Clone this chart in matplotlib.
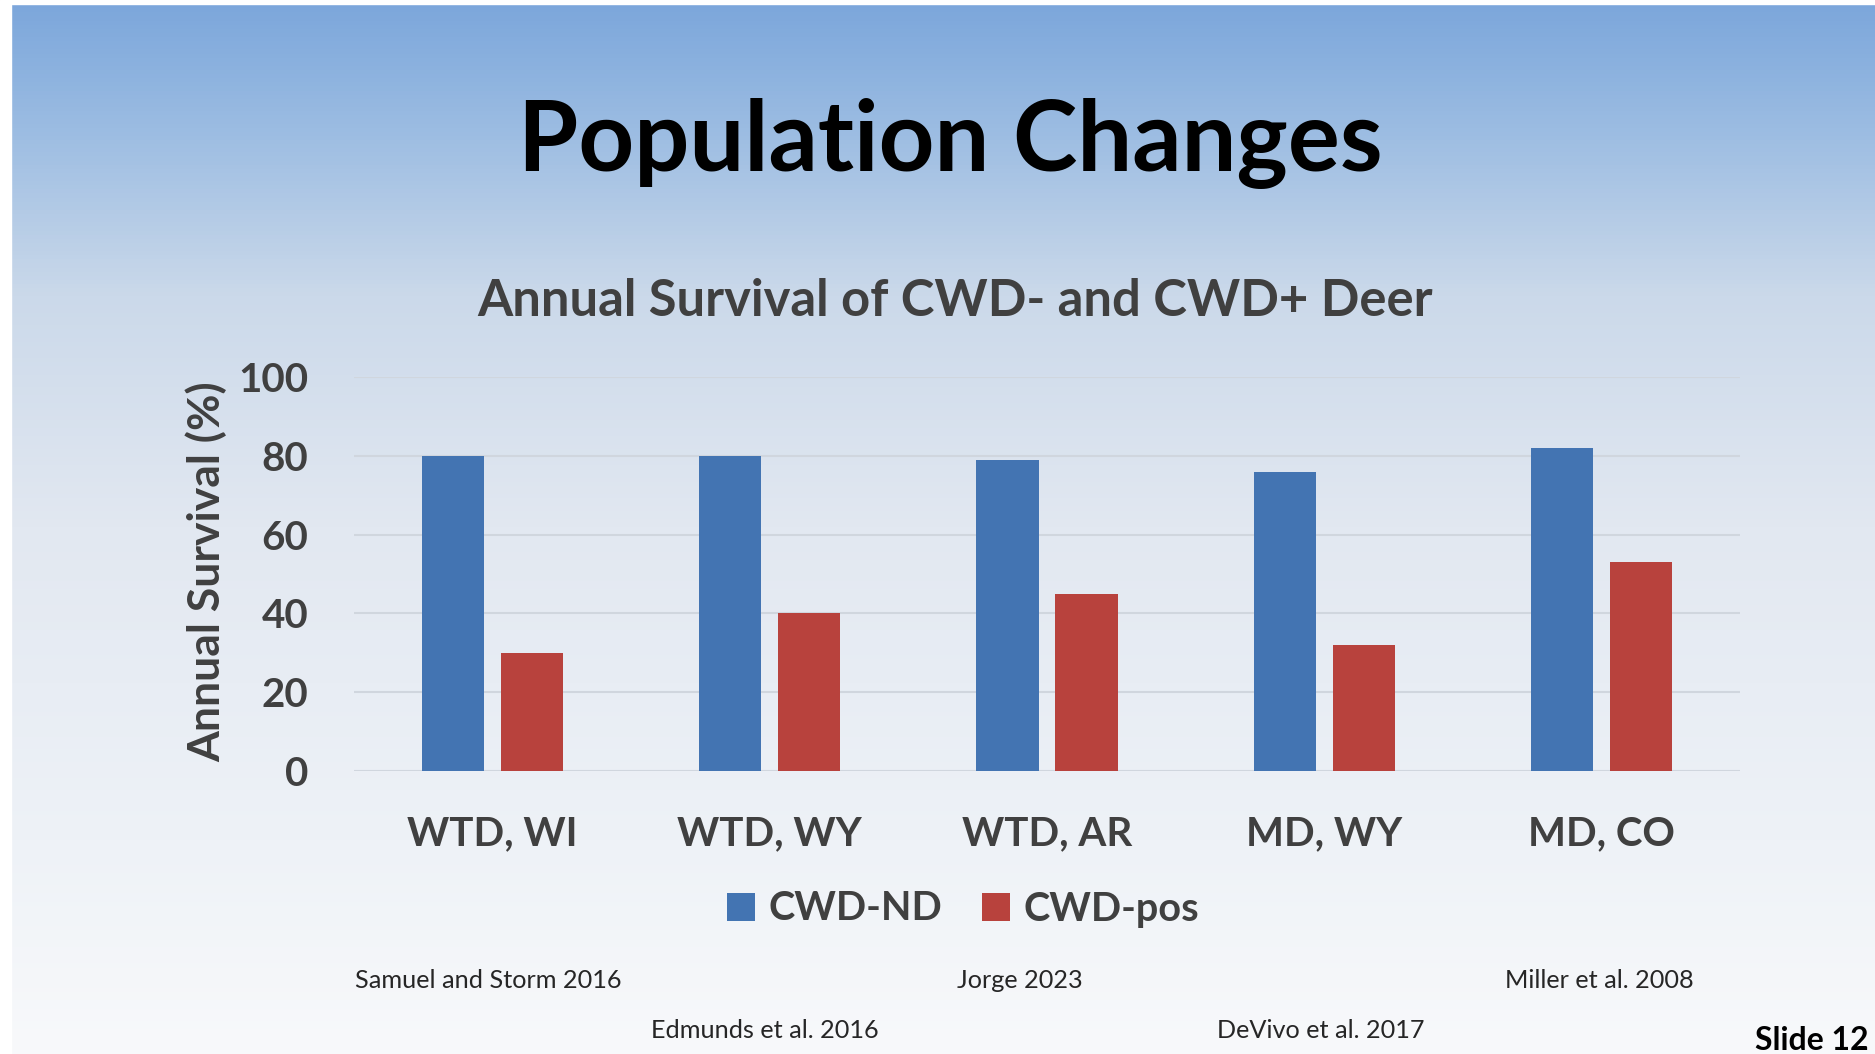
import numpy as np
import matplotlib.pyplot as plt
from matplotlib.colors import LinearSegmentedColormap

# data
sites = ["WTD, WI", "WTD, WY", "WTD, AR", "MD, WY", "MD, CO"]
cwd_nd = [80, 80, 79, 76, 82]
cwd_pos = [30, 40, 45, 32, 53]
citations_top = ["Samuel and Storm 2016", "Jorge 2023", "Miller et al. 2008"]
citations_bottom = ["Edmunds et al. 2016", "DeVivo et al. 2017"]

plt.rcParams['font.family'] = ['Lato', 'DejaVu Sans']

fig = plt.figure(figsize=(18.75, 10.54), dpi=100)

# slide background gradient
bg = fig.add_axes([0, 0, 1, 1])
grad = LinearSegmentedColormap.from_list(
    "slide", [(0.0, "#7ba6db"), (0.12, "#9bbce2"), (0.28, "#cbd9ea"),
              (0.5, "#e2e8f1"), (0.8, "#eef2f7"), (1.0, "#f8f9fb")])
bg.imshow(np.linspace(0, 1, 256).reshape(-1, 1), aspect="auto", cmap=grad,
          extent=[0, 1, 0, 1], origin="upper")
bg.axvspan(0, 11 / 1875, color="white")
bg.axhspan(1 - 4 / 1054, 1, color="white")
bg.set_xlim(0, 1)
bg.set_ylim(0, 1)
bg.axis("off")

ax = fig.add_axes([354 / 1875, 1 - 771 / 1054, (1740 - 354) / 1875, (771 - 377) / 1054])
ax.patch.set_alpha(0)
x = np.arange(len(sites))
w = 0.225
ax.bar(x - 0.1425, cwd_nd, w, color="#4374b2", label="CWD-ND", zorder=3)
ax.bar(x + 0.1425, cwd_pos, w, color="#b8423d", label="CWD-pos", zorder=3)
ax.set_xlim(-0.5, 4.5)
ax.set_ylim(0, 100)
ax.set_yticks([0, 20, 40, 60, 80, 100])
ax.set_xticks(x)
ax.set_xticklabels(sites)
ax.grid(axis="y", color="#d0d6de", linewidth=1.5, zorder=0)
for s in ax.spines.values():
    s.set_visible(False)
ax.tick_params(length=0, labelsize=29, labelcolor="#404040")
ax.tick_params(axis="y", pad=33)
ax.tick_params(axis="x", pad=32)
for lbl in ax.get_xticklabels() + ax.get_yticklabels():
    lbl.set_fontweight("bold")

fig.text(206 / 1875, 1 - 572 / 1054, "Annual Survival (%)", rotation=90,
         ha="center", va="center", fontsize=32, fontweight="bold", color="#404040")

fig.text(950 / 1875, 1 - 143 / 1054, "Population Changes", ha="center", va="center",
         fontsize=70, fontweight="bold", color="black")
fig.text(955 / 1875, 1 - 302 / 1054, "Annual Survival of CWD- and CWD+ Deer",
         ha="center", va="center", fontsize=36.5, fontweight="bold", color="#404040")

leg = ax.legend(loc="center", bbox_to_anchor=(963 / 1875, 1 - 909 / 1054),
                bbox_transform=fig.transFigure, ncol=2, frameon=False,
                prop={"size": 28.5, "weight": "bold"}, handlelength=0.7,
                handleheight=0.7, handletextpad=0.35, columnspacing=1.0)
for t in leg.get_texts():
    t.set_color("#404040")

for name, xc in zip(citations_top, [488, 1020, 1599]):
    fig.text(xc / 1875, 1 - 980 / 1054, name, ha="center", va="center",
             fontsize=18.2, color="#262626")
for name, xc in zip(citations_bottom, [765, 1321]):
    fig.text(xc / 1875, 1 - 1031 / 1054, name, ha="center", va="center",
             fontsize=18.2, color="#262626")

fig.text(1869 / 1875, 1 - 1041 / 1054, "Slide 12", ha="right", va="center",
         fontsize=23, fontweight="bold", color="black")

fig.savefig("out.png", dpi=100)
